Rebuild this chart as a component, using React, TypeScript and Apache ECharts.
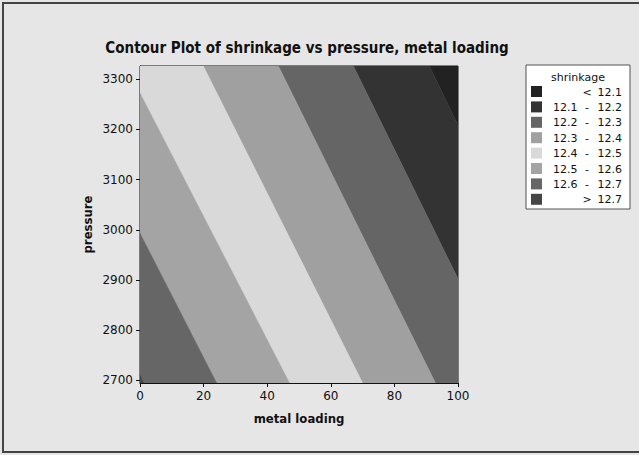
import React, { useEffect, useRef } from "react";
import * as echarts from "echarts";

// contour levels of shrinkage
const levels = [12.1, 12.2, 12.3, 12.4, 12.5, 12.6, 12.7];
// metal loading where each contour line meets the top (pressure max) and bottom (pressure min) of the plot (extrapolated past the edges)
const contourTopX = [91.0, 67.1, 43.5, 19.9, -4.4, -26.9, -49.0];
const contourBottomX = [139.2, 116.1, 92.9, 70.0, 47.0, 24.1, 1.2];
// band fills: < 12.1, 12.1-12.2, ..., > 12.7
const bandColors = ["#222222", "#333333", "#656565", "#a0a0a0", "#d9d9d9", "#a4a4a4", "#666666", "#454545"];
const loadingRange = [0, 100];
const pressureRange = [2695, 3326];
const pressureTicks = [2700, 2800, 2900, 3000, 3100, 3200, 3300];

const FONT = "DejaVu Sans";
const FONT_C = "DejaVu Sans Condensed, DejaVu Sans";

function clipX(pts: number[][], bound: number, keepGreater: boolean) {
  const out: number[][] = [];
  const inside = (p: number[]) => (keepGreater ? p[0] >= bound : p[0] <= bound);
  for (let i = 0; i < pts.length; i++) {
    const a = pts[i];
    const b = pts[(i + 1) % pts.length];
    const ia = inside(a);
    const ib = inside(b);
    if (ia) out.push(a);
    if (ia !== ib) {
      const t = (bound - a[0]) / (b[0] - a[0]);
      out.push([bound, a[1] + t * (b[1] - a[1])]);
    }
  }
  return out;
}

function bandPolygon(k: number) {
  const [pMin, pMax] = pressureRange;
  const leftTop = k === levels.length ? -1000 : contourTopX[k];
  const leftBot = k === levels.length ? -1000 : contourBottomX[k];
  const rightTop = k === 0 ? 1000 : contourTopX[k - 1];
  const rightBot = k === 0 ? 1000 : contourBottomX[k - 1];
  let pts = [
    [leftTop, pMax],
    [rightTop, pMax],
    [rightBot, pMin],
    [leftBot, pMin],
  ];
  pts = clipX(pts, loadingRange[0], true);
  pts = clipX(pts, loadingRange[1], false);
  return pts;
}

function legendLabels() {
  const rows: { low: string; sep: string; high: string }[] = [];
  rows.push({ low: "", sep: "<", high: String(levels[0]) });
  for (let i = 1; i < levels.length; i++) {
    rows.push({ low: String(levels[i - 1]), sep: "-", high: String(levels[i]) });
  }
  rows.push({ low: "", sep: ">", high: String(levels[levels.length - 1]) });
  return rows;
}

export default function App() {
  const ref = useRef<HTMLDivElement>(null);

  useEffect(() => {
    document.body.style.margin = "0";
    if (!ref.current) return;
    const chart = echarts.init(ref.current, null, { renderer: "svg" });

    const rows = legendLabels();
    const lx = 526;
    const ly = 65;
    const rowH = 15.4;
    const lf = `11px ${FONT}`;
    const legendChildren: any[] = [
      {
        type: "rect",
        shape: { x: lx, y: ly, width: 104, height: 144 },
        style: { fill: "#ffffff", stroke: "#555555", lineWidth: 1 },
      },
      {
        type: "text",
        x: lx + 52,
        y: ly + 12,
        style: { text: "shrinkage", fill: "#111", font: `11px ${FONT}`, textAlign: "center", textVerticalAlign: "middle" },
      },
    ];
    rows.forEach((r, i) => {
      const cy = ly + 27 + i * rowH;
      legendChildren.push({
        type: "rect",
        shape: { x: lx + 5, y: cy - 6, width: 11, height: 11 },
        style: { fill: bandColors[i] },
      });
      if (r.low) {
        legendChildren.push({
          type: "text",
          x: lx + 27,
          y: cy,
          style: { text: r.low, fill: "#111", font: lf, textAlign: "left", textVerticalAlign: "middle" },
        });
      }
      legendChildren.push({
        type: "text",
        x: lx + 61,
        y: cy,
        style: { text: r.sep, fill: "#111", font: lf, textAlign: "center", textVerticalAlign: "middle" },
      });
      legendChildren.push({
        type: "text",
        x: lx + 96,
        y: cy,
        style: { text: r.high, fill: "#111", font: lf, textAlign: "right", textVerticalAlign: "middle" },
      });
    });

    chart.setOption({
      animation: false,
      backgroundColor: "#e6e6e6",
      title: {
        text: "Contour Plot of shrinkage vs pressure, metal loading",
        left: 302,
        top: 35,
        textAlign: "center",
        textStyle: { fontFamily: FONT_C, fontWeight: "bold", fontSize: 15, color: "#111" },
      },
      grid: {
        left: 140,
        top: 66,
        right: 181,
        bottom: 72,
        show: true,
        borderColor: "#111",
        borderWidth: 1,
        backgroundColor: "transparent",
      },
      xAxis: {
        type: "value",
        min: loadingRange[0],
        max: loadingRange[1],
        interval: 20,
        name: "metal loading",
        nameLocation: "middle",
        nameGap: 29,
        nameTextStyle: { fontFamily: FONT_C, fontWeight: "bold", fontSize: 13, color: "#111" },
        axisLine: { show: true, lineStyle: { color: "#111", width: 1 } },
        axisTick: { show: true, inside: false, length: 4, lineStyle: { color: "#111" } },
        axisLabel: { margin: 7, fontFamily: FONT, fontSize: 12, color: "#111" },
        splitLine: { show: false },
      },
      yAxis: {
        type: "value",
        min: pressureRange[0],
        max: pressureRange[1],
        name: "pressure",
        nameLocation: "middle",
        nameGap: 46,
        nameTextStyle: { fontFamily: FONT_C, fontWeight: "bold", fontSize: 13, color: "#111" },
        axisLine: { show: true, lineStyle: { color: "#111", width: 1 } },
        axisTick: { show: true, inside: false, length: 4, customValues: pressureTicks, lineStyle: { color: "#111" } },
        axisLabel: {
          margin: 7,
          fontFamily: FONT,
          fontSize: 12,
          color: "#111",
          customValues: pressureTicks,
          formatter: (v: number) => String(v),
        },
        splitLine: { show: false },
      },
      series: [
        {
          type: "custom",
          clip: true,
          data: bandColors.map((_, i) => [i]),
          encode: { x: -1, y: -1 },
          renderItem: (params: any, api: any) => {
            const k = api.value(0);
            const pts = bandPolygon(k).map((p) => api.coord(p));
            return {
              type: "polygon",
              shape: { points: pts },
              style: { fill: bandColors[k], stroke: bandColors[k], lineWidth: 0.5 },
            };
          },
          z: 1,
        },
      ],
      graphic: [
        {
          type: "rect",
          shape: { x: 3, y: 3, width: 645, height: 449 },
          style: { fill: "none", stroke: "#444444", lineWidth: 2 },
          silent: true,
        },
        { type: "group", children: legendChildren },
      ],
    });

    return () => chart.dispose();
  }, []);

  return <div ref={ref} style={{ width: 639, height: 455, background: "#fff" }} />;
}
